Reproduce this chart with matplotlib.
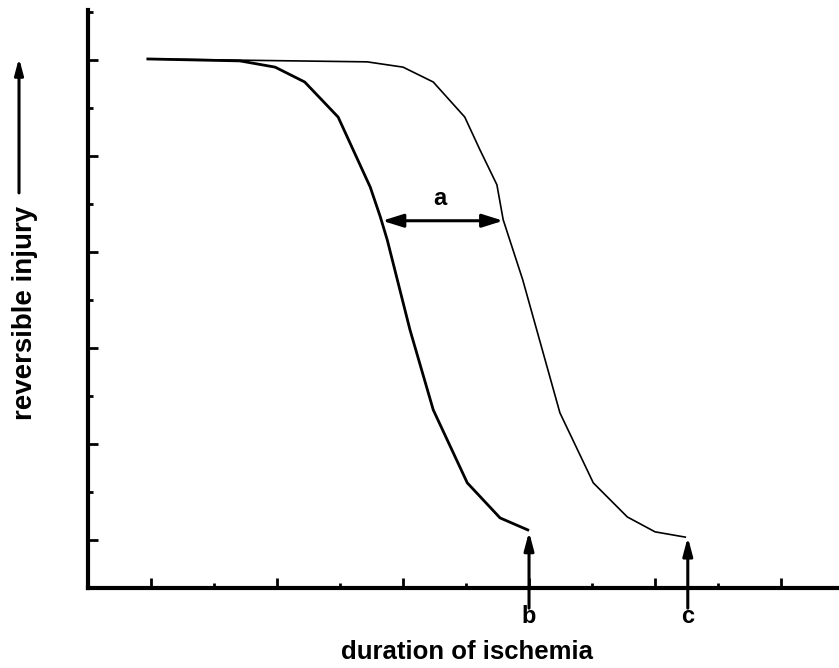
import matplotlib
matplotlib.use("Agg")
import matplotlib.pyplot as plt
from matplotlib.ticker import FixedLocator

# curve data (duration units, injury units)
early_x = [0.95, 2.41, 2.97, 3.44, 3.97, 4.48, 4.64, 4.75, 5.11, 5.48, 6.02, 6.54, 6.98]
early_y = [11.02, 10.98, 10.85, 10.54, 9.81, 8.35, 7.73, 7.25, 5.38, 3.71, 2.19, 1.46, 1.21]

late_x = [0.95, 4.43, 5.00, 5.48, 5.98, 6.22, 6.49, 6.59, 6.90, 7.49, 8.02, 8.56, 9.00, 9.48]
late_y = [11.02, 10.96, 10.85, 10.54, 9.81, 9.13, 8.40, 7.67, 6.42, 3.65, 2.19, 1.48, 1.17, 1.06]

# markers a, b, c
a_span = (4.67, 6.59)
a_level = 7.65
b_x, b_tip = 7.0, 1.17
c_x, c_tip = 9.52, 1.06

FONT = ["Liberation Sans", "DejaVu Sans"]

fig = plt.figure(figsize=(8.39, 6.68), dpi=100)
ax = fig.add_axes([88 / 839, 80 / 668, 751 / 839, 578 / 668])
ax.set_xlim(0, 11.92)
ax.set_ylim(0, 12.04)

ax.plot(early_x, early_y, color="black", lw=2.0)
ax.plot(late_x, late_y, color="black", lw=1.2)

for side in ["top", "right"]:
    ax.spines[side].set_visible(False)
for side in ["left", "bottom"]:
    ax.spines[side].set_linewidth(3)

ax.xaxis.set_major_locator(FixedLocator([1, 3, 5, 7, 9, 11]))
ax.xaxis.set_minor_locator(FixedLocator([2, 4, 6, 8, 10]))
ax.yaxis.set_major_locator(FixedLocator([1, 3, 5, 7, 9, 11]))
ax.yaxis.set_minor_locator(FixedLocator([2, 4, 6, 8, 10, 12]))
ax.tick_params(which="major", direction="in", length=7, width=2)
ax.tick_params(which="minor", direction="in", length=3.5, width=2)
ax.tick_params(labelbottom=False, labelleft=False)

# double arrow a
ax.annotate("", xy=(a_span[1], a_level), xytext=(a_span[0], a_level),
            arrowprops=dict(arrowstyle="<|-|>,head_length=0.7,head_width=0.22",
                            mutation_scale=18, lw=2.2, color="black",
                            shrinkA=0, shrinkB=0))
ax.text(sum(a_span) / 2 - 0.04, a_level + 0.47, "a", ha="center", va="center",
        fontsize=17, fontweight="bold", family=FONT)

# arrows b and c
for xv, tip, lab in [(b_x, b_tip, "b"), (c_x, c_tip, "c")]:
    ax.annotate("", xy=(xv, tip), xytext=(xv, -0.42), annotation_clip=False,
                arrowprops=dict(arrowstyle="-|>,head_length=0.6,head_width=0.16",
                                mutation_scale=18, lw=2.2, color="black",
                                shrinkA=0, shrinkB=0))
    ax.text(xv, -0.6, lab, ha="center", va="center", fontsize=17,
            fontweight="bold", family=FONT, clip_on=False)

# axis labels
ax.text(6.02, -1.33, "duration of ischemia", ha="center", va="center",
        fontsize=18.5, fontweight="bold", family=FONT, clip_on=False)
ax.text(-1.0, 5.73, "reversible injury", ha="center", va="center",
        rotation=90, fontsize=20, fontweight="bold", family=FONT, clip_on=False)
ax.annotate("", xy=(-1.095, 11.04), xytext=(-1.095, 8.23), annotation_clip=False,
            arrowprops=dict(arrowstyle="-|>,head_length=0.6,head_width=0.16",
                            mutation_scale=16, lw=2.2, color="black",
                            shrinkA=0, shrinkB=0))

fig.savefig("out.png", dpi=100)
